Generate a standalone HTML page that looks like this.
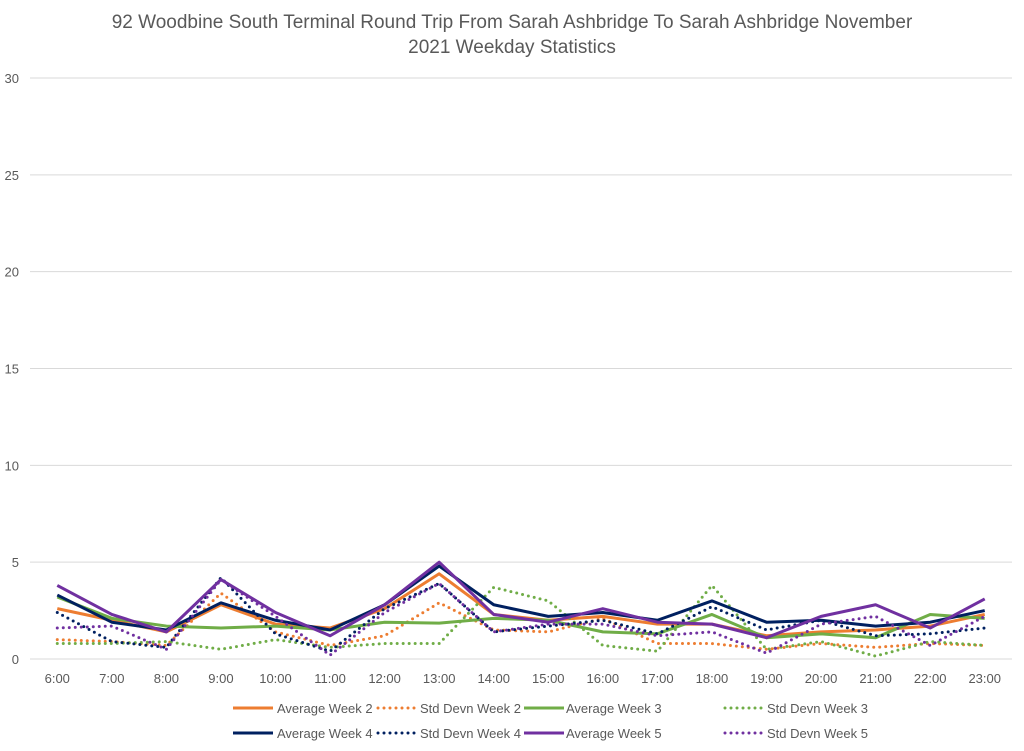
<!DOCTYPE html>
<html><head><meta charset="utf-8"><style>
body{margin:0;background:#fff}
svg text{font-family:"Liberation Sans",sans-serif;fill:#595959}
</style></head><body>
<svg id="chart" width="1024" height="746" viewBox="0 0 1024 746">
<text x="512" y="28" font-size="19" text-anchor="middle">92 Woodbine South Terminal Round Trip From Sarah Ashbridge To Sarah Ashbridge November</text>
<text x="512" y="53" font-size="19" text-anchor="middle">2021 Weekday Statistics</text>
<g id="grid"></g><g id="series"></g><g id="legend"></g>
</svg>
<script>
const categories=["6:00","7:00","8:00","9:00","10:00","11:00","12:00","13:00","14:00","15:00","16:00","17:00","18:00","19:00","20:00","21:00","22:00","23:00"];
const yTicks=[0,5,10,15,20,25,30];
const avgW2=[2.6,2.0,1.4,2.8,1.8,1.6,2.6,4.4,2.3,2.0,2.2,1.8,1.8,1.2,1.4,1.5,1.7,2.3];
const stdW2=[1.0,0.9,0.7,3.4,1.4,0.7,1.2,2.9,1.5,1.4,2.1,0.8,0.8,0.5,0.8,0.6,0.8,0.7];
const avgW3=[3.2,2.1,1.7,1.6,1.7,1.5,1.9,1.85,2.1,2.0,1.4,1.3,2.3,1.1,1.3,1.1,2.3,2.1];
const stdW3=[0.8,0.8,0.9,0.5,1.0,0.6,0.8,0.8,3.7,3.0,0.7,0.4,3.8,0.5,0.9,0.15,0.9,0.7];
const avgW4=[3.3,1.9,1.5,2.9,2.0,1.5,2.8,4.8,2.8,2.2,2.4,2.0,3.0,1.9,2.0,1.7,1.9,2.5];
const stdW4=[2.4,0.9,0.6,4.2,1.3,0.4,2.6,3.9,1.4,1.7,2.0,1.3,2.7,1.5,2.0,1.2,1.3,1.6];
const avgW5=[3.8,2.3,1.4,4.1,2.4,1.2,2.8,5.0,2.3,1.9,2.6,1.9,1.8,1.1,2.2,2.8,1.6,3.1];
const stdW5=[1.6,1.7,0.5,4.1,2.2,0.2,2.4,3.9,1.4,1.8,1.8,1.2,1.4,0.3,1.8,2.2,0.7,2.2];
const NS="http://www.w3.org/2000/svg";
const x0=30,x1=1012,y0=659,y30=78;
const step=(x1-x0)/categories.length;
const xs=i=>x0+step*(i+0.5);
const ys=v=>y0-(v/30)*(y0-y30);
function mk(t,a,p){const e=document.createElementNS(NS,t);for(const k in a)e.setAttribute(k,a[k]);p.appendChild(e);return e;}
const grid=document.getElementById('grid');
yTicks.forEach(v=>{
 const l=mk('line',{x1:x0,x2:x1,y1:ys(v),y2:ys(v),stroke:'#d9d9d9','stroke-width':1},grid);
 
 
 const t=mk('text',{x:19,y:ys(v)+5,'font-size':13,'text-anchor':'end'},grid);t.textContent=v;
 
 
});
categories.forEach((c,i)=>{
 const t=mk('text',{x:xs(i),y:683,'font-size':13,'text-anchor':'middle'},grid);t.textContent=c;
 
 
});
const series=[
 {n:'Average Week 2',d:avgW2,c:'#ed7d31',dash:false},
 {n:'Std Devn Week 2',d:stdW2,c:'#ed7d31',dash:true},
 {n:'Average Week 3',d:avgW3,c:'#70ad47',dash:false},
 {n:'Std Devn Week 3',d:stdW3,c:'#70ad47',dash:true},
 {n:'Average Week 4',d:avgW4,c:'#002060',dash:false},
 {n:'Std Devn Week 4',d:stdW4,c:'#002060',dash:true},
 {n:'Average Week 5',d:avgW5,c:'#7030a0',dash:false},
 {n:'Std Devn Week 5',d:stdW5,c:'#7030a0',dash:true}];
const sg=document.getElementById('series');
series.forEach(s=>{
 const a={points:s.d.map((v,i)=>xs(i)+','+ys(v)).join(' '),fill:'none',stroke:s.c,'stroke-width':3,'stroke-linejoin':'round'};
 if(s.dash){a['stroke-dasharray']='0 6';a['stroke-linecap']='round';}
 const p=mk('polyline',a,sg);
 
 
});
const lg=document.getElementById('legend');
const lx=[[233,277],[375,420],[524,566],[722,767]];
series.forEach((s,i)=>{
 const row=Math.floor(i/4),col=i%4,y=708+row*25;
 const g=mk('g',{},lg);
 
 
 const a={x1:lx[col][0],x2:lx[col][0]+40,y1:y,y2:y,stroke:s.c,'stroke-width':3};
 if(s.dash){a['stroke-dasharray']='0 6';a['stroke-linecap']='round';a.x1+=3;}
 mk('line',a,g);
 const t=mk('text',{x:lx[col][1],y:y+5,'font-size':13},g);t.textContent=s.n;
});
</script>
</body></html>
